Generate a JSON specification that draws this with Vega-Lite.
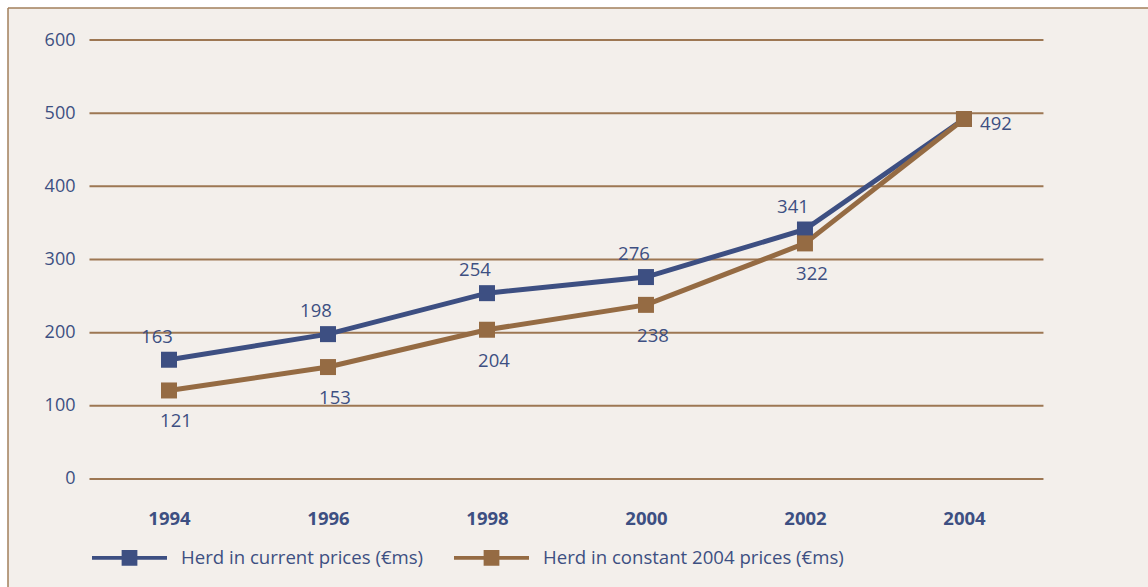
{
  "$schema": "https://vega.github.io/schema/vega-lite/v6.json",
  "width": 1140,
  "height": 579,
  "autosize": {"type": "none"},
  "padding": {"left": 8, "top": 8, "right": 0, "bottom": 0},
  "background": "#ffffff",
  "config": {
    "view": {
      "fill": "#f3efeb",
      "stroke": "#a3805c",
      "strokeWidth": 1.5,
      "strokeDash": [1140, 1719, 579, 0]
    },
    "font": "Open Sans"
  },
  "datasets": {
    "herd": [
      {"year": 1994, "series": "Herd in current prices (€ms)", "value": 163},
      {"year": 1996, "series": "Herd in current prices (€ms)", "value": 198},
      {"year": 1998, "series": "Herd in current prices (€ms)", "value": 254},
      {"year": 2000, "series": "Herd in current prices (€ms)", "value": 276},
      {"year": 2002, "series": "Herd in current prices (€ms)", "value": 341},
      {"year": 2004, "series": "Herd in current prices (€ms)", "value": 492},
      {"year": 1994, "series": "Herd in constant 2004 prices (€ms)", "value": 121},
      {"year": 1996, "series": "Herd in constant 2004 prices (€ms)", "value": 153},
      {"year": 1998, "series": "Herd in constant 2004 prices (€ms)", "value": 204},
      {"year": 2000, "series": "Herd in constant 2004 prices (€ms)", "value": 238},
      {"year": 2002, "series": "Herd in constant 2004 prices (€ms)", "value": 322},
      {"year": 2004, "series": "Herd in constant 2004 prices (€ms)", "value": 492}
    ],
    "grid": [
      {"level": 0}, {"level": 100}, {"level": 200}, {"level": 300},
      {"level": 400}, {"level": 500}, {"level": 600}
    ]
  },
  "layer": [
    {
      "data": {"name": "grid"},
      "mark": {"type": "rule", "color": "#9d7753", "strokeWidth": 2},
      "encoding": {
        "x": {"datum": 1993, "type": "quantitative", "scale": {"domain": [1991.975, 2006.315], "nice": false, "zero": false}},
        "x2": {"datum": 2005},
        "y": {"field": "level", "type": "quantitative", "scale": {"domain": [-147.61, 643.74], "nice": false, "zero": false}}
      }
    },
    {
      "data": {"name": "herd"},
      "mark": {"type": "line", "strokeWidth": 5},
      "encoding": {
        "x": {
          "field": "year", "type": "quantitative",
          "axis": {
            "orient": "bottom", "offset": -108, "values": [1994, 1996, 1998, 2000, 2002, 2004],
            "format": "d", "domain": false, "ticks": false, "grid": false, "title": null,
            "labelPadding": 30, "labelFontSize": 18.5, "labelFontWeight": "bold",
            "labelColor": "#3d4f82", "labelFont": "Open Sans"
          }
        },
        "y": {
          "field": "value", "type": "quantitative",
          "axis": {
            "orient": "left", "offset": -82, "values": [0, 100, 200, 300, 400, 500, 600],
            "domain": false, "ticks": false, "grid": false, "title": null,
            "labelPadding": 15, "labelFontSize": 18, "labelColor": "#3d4f82", "labelFont": "Open Sans"
          }
        },
        "color": {
          "field": "series", "type": "nominal",
          "scale": {
            "domain": ["Herd in current prices (€ms)", "Herd in constant 2004 prices (€ms)"],
            "range": ["#3d4f82", "#956b43"]
          },
          "legend": {
            "orient": "none", "legendX": 84, "legendY": 512, "direction": "horizontal", "columns": 2,
            "title": null, "padding": 0, "columnPadding": 30, "labelOffset": 14, "labelLimit": 500,
            "symbolType": "M-1,-0.05H1V0.05H-1Z M-0.21,-0.21H0.21V0.21H-0.21Z",
            "symbolSize": 5625, "symbolStrokeWidth": 0,
            "labelFontSize": 18.6, "labelColor": "#3d4f82", "labelFont": "Open Sans",
            "encode": {
              "symbols": {"update": {"fill": {"scale": "color", "field": "value"}, "strokeWidth": {"value": 0}, "opacity": {"value": 1}}}
            }
          }
        }
      }
    },
    {
      "data": {"name": "herd"},
      "mark": {"type": "point", "shape": "square", "filled": true, "size": 256, "opacity": 1},
      "encoding": {
        "x": {"field": "year", "type": "quantitative"},
        "y": {"field": "value", "type": "quantitative"},
        "color": {"field": "series", "type": "nominal"}
      }
    },
    {
      "data": {"name": "herd"},
      "transform": [{"filter": "datum.year < 2004 && datum.series == 'Herd in current prices (€ms)'"}],
      "mark": {"type": "text", "dx": -12, "dy": -23, "fontSize": 18.5, "color": "#3d4f82", "font": "Open Sans"},
      "encoding": {
        "x": {"field": "year", "type": "quantitative"},
        "y": {"field": "value", "type": "quantitative"},
        "text": {"field": "value", "type": "quantitative"}
      }
    },
    {
      "data": {"name": "herd"},
      "transform": [{"filter": "datum.year < 2004 && datum.series == 'Herd in constant 2004 prices (€ms)'"}],
      "mark": {"type": "text", "dx": 7, "dy": 31, "fontSize": 18.5, "color": "#3d4f82", "font": "Open Sans"},
      "encoding": {
        "x": {"field": "year", "type": "quantitative"},
        "y": {"field": "value", "type": "quantitative"},
        "text": {"field": "value", "type": "quantitative"}
      }
    },
    {
      "data": {"name": "herd"},
      "transform": [{"filter": "datum.year == 2004 && datum.series == 'Herd in constant 2004 prices (€ms)'"}],
      "mark": {"type": "text", "dx": 32, "dy": 5, "fontSize": 18.5, "color": "#3d4f82", "font": "Open Sans"},
      "encoding": {
        "x": {"field": "year", "type": "quantitative"},
        "y": {"field": "value", "type": "quantitative"},
        "text": {"field": "value", "type": "quantitative"}
      }
    }
  ]
}
